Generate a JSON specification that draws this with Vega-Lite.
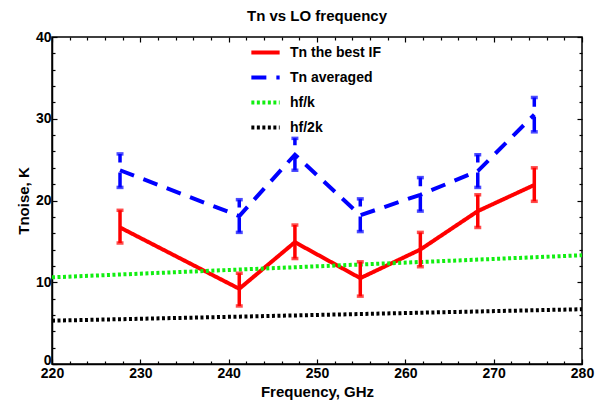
{
  "$schema": "https://vega.github.io/schema/vega-lite/v6.json",
  "width": 530,
  "height": 327,
  "autosize": "none",
  "padding": {"left": 52, "top": 37, "right": 24, "bottom": 41},
  "background": "white",
  "title": {"text": "Tn vs LO frequency", "font": "Liberation Sans", "fontSize": 15, "fontWeight": "bold", "color": "black", "offset": 6, "anchor": "middle"},
  "config": {
    "view": {"stroke": "black", "strokeWidth": 1.5},
    "axis": {"domainColor": "black", "domainWidth": 1.5, "tickColor": "black", "tickWidth": 1.2, "grid": false, "labelFont": "Liberation Sans", "labelFontWeight": "bold", "labelFontSize": 14, "labelColor": "black", "titleFont": "Liberation Sans", "titleFontWeight": "bold", "titleFontSize": 15, "titleColor": "black"}
  },
  "datasets": {
    "pts": [
      {"series": "Tn the best IF", "freq": 227.7, "T": 16.7, "lo": 14.8, "hi": 18.8},
      {"series": "Tn the best IF", "freq": 241.2, "T": 9.2, "lo": 7.1, "hi": 11.1},
      {"series": "Tn the best IF", "freq": 247.5, "T": 14.9, "lo": 12.9, "hi": 17.0},
      {"series": "Tn the best IF", "freq": 254.9, "T": 10.5, "lo": 8.3, "hi": 12.5},
      {"series": "Tn the best IF", "freq": 261.7, "T": 14.0, "lo": 11.9, "hi": 16.1},
      {"series": "Tn the best IF", "freq": 268.2, "T": 18.7, "lo": 16.7, "hi": 20.7},
      {"series": "Tn the best IF", "freq": 274.6, "T": 21.9, "lo": 19.9, "hi": 24.0},
      {"series": "Tn averaged", "freq": 227.7, "T": 23.7, "lo": 21.6, "hi": 25.7},
      {"series": "Tn averaged", "freq": 241.2, "T": 18.1, "lo": 16.1, "hi": 20.1},
      {"series": "Tn averaged", "freq": 247.5, "T": 25.6, "lo": 23.7, "hi": 27.6},
      {"series": "Tn averaged", "freq": 254.9, "T": 18.2, "lo": 16.2, "hi": 20.2},
      {"series": "Tn averaged", "freq": 261.7, "T": 20.7, "lo": 18.7, "hi": 22.8},
      {"series": "Tn averaged", "freq": 268.2, "T": 23.6, "lo": 21.6, "hi": 25.6},
      {"series": "Tn averaged", "freq": 274.6, "T": 30.5, "lo": 28.4, "hi": 32.6}
    ],
    "lines": [
      {"series": "Tn the best IF", "freq": 227.7, "T": 16.7},
      {"series": "Tn the best IF", "freq": 241.2, "T": 9.2},
      {"series": "Tn the best IF", "freq": 247.5, "T": 14.9},
      {"series": "Tn the best IF", "freq": 254.9, "T": 10.5},
      {"series": "Tn the best IF", "freq": 261.7, "T": 14.0},
      {"series": "Tn the best IF", "freq": 268.2, "T": 18.7},
      {"series": "Tn the best IF", "freq": 274.6, "T": 21.9},
      {"series": "Tn averaged", "freq": 227.7, "T": 23.7},
      {"series": "Tn averaged", "freq": 241.2, "T": 18.1},
      {"series": "Tn averaged", "freq": 247.5, "T": 25.6},
      {"series": "Tn averaged", "freq": 254.9, "T": 18.2},
      {"series": "Tn averaged", "freq": 261.7, "T": 20.7},
      {"series": "Tn averaged", "freq": 268.2, "T": 23.6},
      {"series": "Tn averaged", "freq": 274.6, "T": 30.5},
      {"series": "hf/k", "freq": 220, "T": 10.6},
      {"series": "hf/k", "freq": 280, "T": 13.3},
      {"series": "hf/2k", "freq": 220, "T": 5.3},
      {"series": "hf/2k", "freq": 280, "T": 6.7}
    ]
  },
  "resolve": {"axis": {"x": "independent", "y": "independent"}},
  "layer": [
    {
      "data": {"name": "lines"},
      "mark": {"type": "line", "strokeWidth": 4, "clip": true},
      "encoding": {
        "x": {"field": "freq", "type": "quantitative", "scale": {"domain": [220, 280], "nice": false, "zero": false},
          "axis": {"orient": "bottom", "title": "Frequency, GHz", "titlePadding": 2,
            "values": [220,222,224,226,228,230,232,234,236,238,240,242,244,246,248,250,252,254,256,258,260,262,264,266,268,270,272,274,276,278,280],
            "labelExpr": "datum.value % 10 === 0 ? datum.label : ''",
            "tickSize": {"condition": {"test": "datum.value % 10 === 0", "value": -5}, "value": -3},
            "labelPadding": 7, "labelFlush": false, "labelOverlap": false}},
        "y": {"field": "T", "type": "quantitative", "scale": {"domain": [0, 40], "nice": false},
          "axis": {"orient": "left", "title": "Tnoise, K", "titlePadding": 4,
            "values": [0,2,4,6,8,10,12,14,16,18,20,22,24,26,28,30,32,34,36,38,40],
            "labelExpr": "datum.value % 10 === 0 ? datum.label : ''",
            "labelOffset": {"condition": {"test": "datum.value === 0", "value": -4}, "value": 0},
            "tickSize": {"condition": {"test": "datum.value % 10 === 0", "value": -5}, "value": -3},
            "labelPadding": 6, "labelFlush": false, "labelOverlap": false}},
        "color": {"field": "series", "type": "nominal",
          "scale": {"domain": ["Tn the best IF", "Tn averaged", "hf/k", "hf/2k"], "range": ["#ff0000", "#0000ff", "#11ee11", "#000000"]},
          "legend": {"orient": "none", "legendX": 197, "legendY": -1, "title": null, "symbolType": "stroke", "symbolStrokeWidth": 4, "symbolSize": 800,
            "labelFont": "Liberation Sans", "labelFontWeight": "bold", "labelFontSize": 14, "labelColor": "black", "rowPadding": -2, "labelOffset": 8}},
        "strokeDash": {"field": "series", "type": "nominal",
          "scale": {"domain": ["Tn the best IF", "Tn averaged", "hf/k", "hf/2k"], "range": [[1, 0], [15, 10], [3, 2.5], [3, 2.5]]},
          "legend": {"orient": "none", "legendX": 197, "legendY": -1, "title": null, "symbolType": "stroke", "symbolStrokeWidth": 4, "symbolSize": 800,
            "labelFont": "Liberation Sans", "labelFontWeight": "bold", "labelFontSize": 14, "labelColor": "black", "rowPadding": -2, "labelOffset": 8}}
      }
    },
    {
      "data": {"name": "pts"},
      "mark": {"type": "rule", "strokeWidth": 3.5},
      "encoding": {
        "x": {"field": "freq", "type": "quantitative",
          "axis": {"orient": "top", "title": null, "labels": false, "domain": false,
            "values": [220,222,224,226,228,230,232,234,236,238,240,242,244,246,248,250,252,254,256,258,260,262,264,266,268,270,272,274,276,278,280],
            "tickSize": {"condition": {"test": "datum.value % 10 === 0", "value": -5}, "value": -3}}},
        "y": {"field": "lo", "type": "quantitative",
          "axis": {"orient": "right", "title": null, "labels": false, "domain": false,
            "values": [0,2,4,6,8,10,12,14,16,18,20,22,24,26,28,30,32,34,36,38,40],
            "tickSize": {"condition": {"test": "datum.value % 10 === 0", "value": -5}, "value": -3}}},
        "y2": {"field": "hi"},
        "color": {"field": "series", "type": "nominal", "legend": null},
        "strokeDash": {"field": "series", "type": "nominal", "legend": null}
      }
    },
    {
      "data": {"name": "pts"},
      "mark": {"type": "tick", "orient": "horizontal", "size": 7, "thickness": 3.5},
      "encoding": {
        "x": {"field": "freq", "type": "quantitative", "axis": null},
        "y": {"field": "lo", "type": "quantitative", "axis": null},
        "color": {"field": "series", "type": "nominal", "legend": null}
      }
    },
    {
      "data": {"name": "pts"},
      "mark": {"type": "tick", "orient": "horizontal", "size": 7, "thickness": 3.5},
      "encoding": {
        "x": {"field": "freq", "type": "quantitative", "axis": null},
        "y": {"field": "hi", "type": "quantitative", "axis": null},
        "color": {"field": "series", "type": "nominal", "legend": null}
      }
    }
  ]
}
